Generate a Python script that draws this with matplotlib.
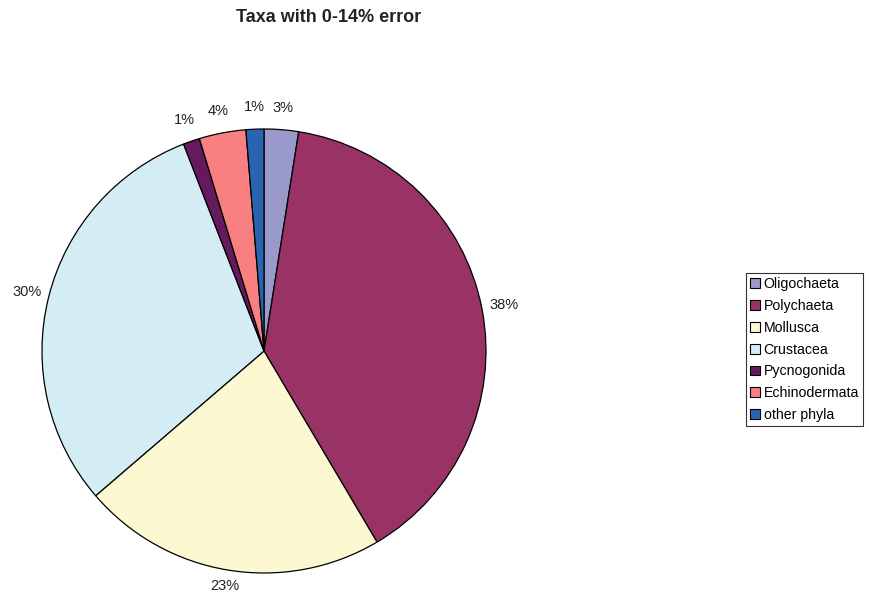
import matplotlib
matplotlib.use("Agg")
import matplotlib.pyplot as plt

plt.rcParams['font.family'] = ['Liberation Sans', 'DejaVu Sans']

taxa = ['Oligochaeta', 'Polychaeta', 'Mollusca', 'Crustacea',
        'Pycnogonida', 'Echinodermata', 'other phyla']
shares = [2.5, 39.0, 22.2, 30.4, 1.2, 3.4, 1.3]
pct_labels = ['3%', '38%', '23%', '30%', '1%', '4%', '1%']
colors = ['#9999cc', '#993366', '#fcf8d2', '#d4edf4', '#661a5e', '#f88080', '#2a64b0']

W, H = 869, 597
fig = plt.figure(figsize=(W / 100, H / 100), dpi=100)

# pie axes placed in pixel terms: centre (264, 351), radius 222
cx, cy, r = 264, 351, 222
ax = fig.add_axes([(cx - r) / W, (H - cy - r) / H, 2 * r / W, 2 * r / H])
wedges, texts, autotexts = ax.pie(
    shares, colors=colors, startangle=90, counterclock=False,
    autopct='', pctdistance=1.1, radius=1,
    wedgeprops=dict(edgecolor='black', linewidth=0.9))
for t, lab in zip(autotexts, pct_labels):
    t.set_text(lab)
    t.set_fontsize(10.5)
    t.set_color('#222222')
# bottom label sits a little closer to the rim
x, y = autotexts[2].get_position()
autotexts[2].set_position((x * 1.075 / 1.1, y * 1.075 / 1.1))
ax.set_xlim(-1, 1)
ax.set_ylim(-1, 1)
ax.set_aspect('equal')
ax.axis('off')

fig.text(329 / W, 1 - 18 / H, 'Taxa with 0-14% error', ha='center', va='center',
         fontsize=13, fontweight='bold', color='#222222')

leg = fig.legend(wedges, taxa, loc='upper left',
                 bbox_to_anchor=(746 / W, (H - 273) / H),
                 fontsize=10.2, frameon=True, fancybox=False,
                 handlelength=0.7, handleheight=0.7, handletextpad=0.25,
                 labelspacing=0.55, borderpad=0.3, borderaxespad=0)
leg.get_frame().set_edgecolor('black')
leg.get_frame().set_linewidth(0.8)
for h in leg.legend_handles:
    h.set_linewidth(0.8)

fig.savefig('out.png', dpi=100)
plt.close()
